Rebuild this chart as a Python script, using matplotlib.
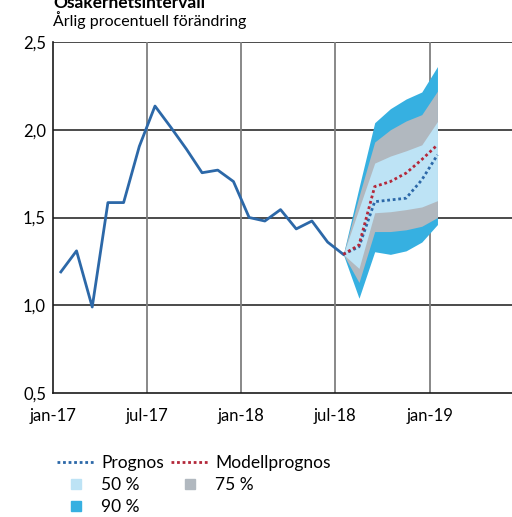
import numpy as np
import matplotlib.pyplot as plt
from matplotlib.lines import Line2D

plt.rcParams['font.family'] = ['Lato', 'DejaVu Sans']

# Outcome, monthly jan-17 .. jul-18
hist = [1.19, 1.31, 0.99, 1.585, 1.585, 1.905, 2.135, 2.015, 1.89, 1.755,
        1.77, 1.705, 1.50, 1.48, 1.545, 1.435, 1.48, 1.36, 1.29]

# Forecast period jul-18 .. jan-19
prognos = [1.29, 1.333, 1.59, 1.60, 1.61, 1.714, 1.857]
modell = [1.29, 1.343, 1.676, 1.705, 1.753, 1.83, 1.914]

# Uncertainty bands
u90 = [1.29, 1.67, 2.04, 2.12, 2.175, 2.215, 2.36]
l90 = [1.29, 1.04, 1.305, 1.29, 1.31, 1.36, 1.46]
u75 = [1.29, 1.62, 1.93, 2.00, 2.05, 2.086, 2.22]
l75 = [1.29, 1.13, 1.42, 1.42, 1.43, 1.45, 1.50]
u50 = [1.29, 1.55, 1.81, 1.85, 1.88, 1.914, 2.047]
l50 = [1.29, 1.21, 1.527, 1.533, 1.545, 1.56, 1.596]

xtick_labels = ['jan-17', 'jul-17', 'jan-18', 'jul-18', 'jan-19']
ytick_labels = ['0,5', '1,0', '1,5', '2,0', '2,5']

c_line = '#2c68a8'
c_red = '#b3283a'
c50 = '#bde3f5'
c75 = '#b1b8bf'
c90 = '#36b0e1'

x_hist = np.arange(len(hist)) + 0.5
x_fc = np.arange(len(prognos)) + len(hist) - 0.5

fig = plt.figure(figsize=(5.12, 5.17), dpi=100)
ax = fig.add_axes([0.1035, 0.2398, 0.8965, 0.679])

ax.fill_between(x_fc, l90, u90, color=c90, lw=0)
ax.fill_between(x_fc, l75, u75, color=c75, lw=0)
ax.fill_between(x_fc, l50, u50, color=c50, lw=0)

ax.plot(x_hist, hist, color=c_line, lw=2)
ax.plot(x_fc, prognos, color=c_line, lw=2, ls=(0, (1, 1)))
ax.plot(x_fc, modell, color=c_red, lw=2, ls=(0, (1, 1)))

ax.set_xlim(0, 29.25)
ax.set_ylim(0.5, 2.5)
ax.set_xticks([0, 6, 12, 18, 24])
ax.set_xticklabels(xtick_labels)
ax.set_yticks([0.5, 1.0, 1.5, 2.0, 2.5])
ax.set_yticklabels(ytick_labels)
ax.tick_params(axis='both', length=0, labelsize=12)
ax.tick_params(axis='x', pad=11)
ax.tick_params(axis='y', pad=5)

for v in [1.0, 1.5, 2.0, 2.5]:
    ax.axhline(v, color='#1a1a1a', lw=1.1, zorder=0)
for v in [6, 12, 18, 24]:
    ax.axvline(v, color='#7f7f7f', lw=1.3, zorder=0)

for s in ['top', 'right']:
    ax.spines[s].set_visible(False)
ax.spines['left'].set_color('#1a1a1a')
ax.spines['bottom'].set_color('#1a1a1a')
ax.spines['left'].set_linewidth(1.2)
ax.spines['bottom'].set_linewidth(1.2)

fig.text(0.1035, 0.985, 'Osäkerhetsintervall', fontsize=12.5, fontweight='bold',
         va='baseline', ha='left')
fig.text(0.1035, 0.961, 'Årlig procentuell förändring', fontsize=11.5,
         va='center', ha='left')

handles = [
    Line2D([], [], color=c_line, lw=2, ls=(0, (1, 1))),
    Line2D([], [], ls='none', marker='s', markersize=7, color=c50),
    Line2D([], [], ls='none', marker='s', markersize=7, color=c90),
    Line2D([], [], color=c_red, lw=2, ls=(0, (1, 1))),
    Line2D([], [], ls='none', marker='s', markersize=7, color=c75),
]
labels = ['Prognos', '50 %', '90 %', 'Modellprognos', '75 %']
fig.legend(handles, labels, ncol=2, frameon=False, fontsize=12.5,
           loc='upper left', bbox_to_anchor=(0.111, 0.12),
           bbox_transform=fig.transFigure, handlelength=2.2,
           handletextpad=0.35, columnspacing=0.4, labelspacing=0.36,
           borderpad=0, borderaxespad=0)

fig.savefig('out.png', dpi=100)
